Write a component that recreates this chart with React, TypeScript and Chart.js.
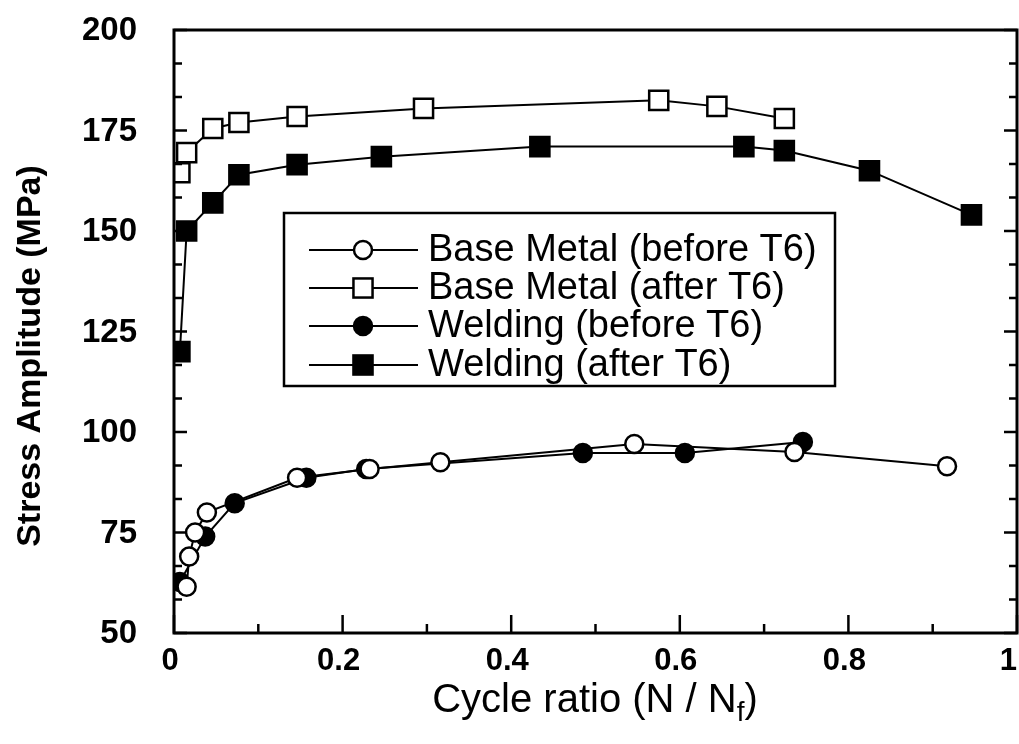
import { useEffect, useRef } from "react";
import { Chart, registerables } from "chart.js";

Chart.register(...registerables);

// ---- Data ----
const seriesLabels = [
  "Base Metal (before T6)",
  "Base Metal (after T6)",
  "Welding (before T6)",
  "Welding (after T6)",
];

const baseBeforeX = [0.015, 0.018, 0.025, 0.039, 0.146, 0.232, 0.316, 0.546, 0.736, 0.917];
const baseBeforeY = [61.5, 69, 75, 80, 88.6, 90.8, 92.5, 97, 95, 91.5];

const baseAfterX = [0.007, 0.015, 0.046, 0.077, 0.146, 0.296, 0.575, 0.644, 0.724];
const baseAfterY = [164.5, 169.5, 175.5, 177, 178.5, 180.5, 182.5, 181, 178];

const weldBeforeX = [0.007, 0.037, 0.072, 0.157, 0.228, 0.485, 0.606, 0.746];
const weldBeforeY = [62.7, 74, 82.3, 88.6, 90.8, 94.8, 94.8, 97.5];

const weldAfterX = [0.007, 0.015, 0.046, 0.077, 0.146, 0.246, 0.434, 0.676, 0.724, 0.825, 0.946];
const weldAfterY = [120, 150, 157, 164, 166.5, 168.5, 171, 171, 170, 165, 154];

const xTickValues = [0, 0.2, 0.4, 0.6, 0.8, 1];
const xTickLabels = ["0", "0.2", "0.4", "0.6", "0.8", "1"];
const xMinorValues = [0.1, 0.3, 0.5, 0.7, 0.9];
const yTickValues = [50, 75, 100, 125, 150, 175, 200];
const yTickLabels = ["50", "75", "100", "125", "150", "175", "200"];

const yTitle = "Stress Amplitude (MPa)";
const xTitleMain = "Cycle ratio (N / N";
const xTitleSub = "f";
const xTitleEnd = ")";

const FONT = '"Liberation Sans", Arial, Helvetica, sans-serif';

const pts = (xs: number[], ys: number[]) => xs.map((x, i) => ({ x, y: ys[i] }));

const markerStyles = [
  { style: "circle", fill: "#ffffff", radius: 9 },
  { style: "rect", fill: "#ffffff", radius: 13.5 },
  { style: "circle", fill: "#000000", radius: 9 },
  { style: "rect", fill: "#000000", radius: 13.5 },
];

const decorPlugin = {
  id: "decor",
  afterDatasetsDraw(chart: any) {
    const { ctx, chartArea } = chart;
    const xs = chart.scales.x;
    const ys = chart.scales.y;
    const { left, right, top, bottom } = chartArea;
    ctx.save();
    ctx.strokeStyle = "#000";
    ctx.fillStyle = "#000";

    // frame
    ctx.lineWidth = 3;
    ctx.strokeRect(left, top, right - left, bottom - top);

    // y ticks (inward on left and right)
    ctx.lineWidth = 2.5;
    for (let v = 50; v <= 200.01; v += 25 / 3) {
      const p = ys.getPixelForValue(v);
      const isMajor = Math.abs(((v - 50) / 25) - Math.round((v - 50) / 25)) < 0.01;
      const len = isMajor ? 13 : 8;
      ctx.beginPath();
      ctx.moveTo(left, p);
      ctx.lineTo(left + len, p);
      ctx.moveTo(right, p);
      ctx.lineTo(right - len, p);
      ctx.stroke();
    }
    // x ticks (inward)
    xTickValues.forEach((v) => {
      const p = xs.getPixelForValue(v);
      ctx.beginPath();
      ctx.moveTo(p, bottom);
      ctx.lineTo(p, bottom - 18);
      ctx.stroke();
    });
    xMinorValues.forEach((v) => {
      const p = xs.getPixelForValue(v);
      ctx.beginPath();
      ctx.moveTo(p, bottom);
      ctx.lineTo(p, bottom - 9);
      ctx.stroke();
    });

    // tick labels
    ctx.font = `bold 33px ${FONT}`;
    ctx.textAlign = "right";
    ctx.textBaseline = "middle";
    yTickValues.forEach((v, i) => {
      ctx.fillText(yTickLabels[i], 137, ys.getPixelForValue(v) + 1);
    });
    ctx.font = `bold 31px ${FONT}`;
    ctx.textAlign = "center";
    ctx.textBaseline = "top";
    xTickValues.forEach((v, i) => {
      let p = xs.getPixelForValue(v) - 4;
      const w = ctx.measureText(xTickLabels[i]).width;
      if (p + w / 2 > chart.width - 2) p = chart.width - 2 - w / 2;
      ctx.fillText(xTickLabels[i], p, 646);
    });

    // y title
    ctx.save();
    ctx.translate(31, 356);
    ctx.rotate(-Math.PI / 2);
    ctx.font = `bold 34px ${FONT}`;
    ctx.textAlign = "center";
    ctx.textBaseline = "middle";
    ctx.fillText(yTitle, 0, 0);
    ctx.restore();

    // x title with subscript
    ctx.font = `40px ${FONT}`;
    const wMain = ctx.measureText(xTitleMain).width;
    ctx.font = `28px ${FONT}`;
    const wSub = ctx.measureText(xTitleSub).width;
    ctx.font = `40px ${FONT}`;
    const wEnd = ctx.measureText(xTitleEnd).width;
    const total = wMain + wSub + wEnd;
    let tx = 595 - total / 2;
    const base = 712;
    ctx.textAlign = "left";
    ctx.textBaseline = "alphabetic";
    ctx.fillText(xTitleMain, tx, base);
    tx += wMain;
    ctx.font = `28px ${FONT}`;
    ctx.fillText(xTitleSub, tx, base + 9);
    tx += wSub;
    ctx.font = `40px ${FONT}`;
    ctx.fillText(xTitleEnd, tx, base);

    // legend box
    const bx = 284, by = 213, bw = 551, bh = 173;
    ctx.fillStyle = "#fff";
    ctx.fillRect(bx, by, bw, bh);
    ctx.lineWidth = 2.5;
    ctx.strokeStyle = "#000";
    ctx.strokeRect(bx, by, bw, bh);
    const rows = [250, 288, 326, 365];
    ctx.font = `38px ${FONT}`;
    ctx.textAlign = "left";
    ctx.textBaseline = "middle";
    seriesLabels.forEach((label, i) => {
      const y = rows[i];
      ctx.strokeStyle = "#000";
      ctx.lineWidth = 2;
      ctx.beginPath();
      ctx.moveTo(309, y);
      ctx.lineTo(418, y);
      ctx.stroke();
      const m = markerStyles[i];
      ctx.fillStyle = m.fill;
      ctx.lineWidth = 2.5;
      if (m.style === "circle") {
        ctx.beginPath();
        ctx.arc(363, y, m.radius, 0, Math.PI * 2);
        ctx.fill();
        ctx.stroke();
      } else {
        const s = m.radius * Math.SQRT2;
        ctx.fillRect(363 - s / 2, y - s / 2, s, s);
        ctx.strokeRect(363 - s / 2, y - s / 2, s, s);
      }
      ctx.fillStyle = "#000";
      ctx.fillText(label, 428, y + 1);
    });

    ctx.restore();
  },
};

export default function App() {
  const ref = useRef<HTMLCanvasElement | null>(null);

  useEffect(() => {
    if (!ref.current) return;
    const mk = (i: number, data: { x: number; y: number }[]) => ({
      label: seriesLabels[i],
      data,
      showLine: true,
      borderColor: "#000",
      borderWidth: 2,
      backgroundColor: markerStyles[i].fill,
      pointStyle: markerStyles[i].style,
      pointRadius: markerStyles[i].radius,
      pointBorderWidth: 2.5,
      pointBorderColor: "#000",
      pointBackgroundColor: markerStyles[i].fill,
      fill: false,
      tension: 0,
    });
    const chart = new Chart(ref.current, {
      type: "scatter",
      data: {
        datasets: [
          mk(0, pts(baseBeforeX, baseBeforeY)),
          mk(2, pts(weldBeforeX, weldBeforeY)),
          mk(1, pts(baseAfterX, baseAfterY)),
          mk(3, pts(weldAfterX, weldAfterY)),
        ],
      },
      options: {
        animation: false,
        responsive: false,
        devicePixelRatio: 1,
        layout: { autoPadding: false, padding: { left: 174, top: 30, right: 2, bottom: 111 } },
        plugins: { legend: { display: false }, tooltip: { enabled: false } },
        scales: {
          x: { type: "linear", min: 0, max: 1, display: false },
          y: { type: "linear", min: 50, max: 200, display: false },
        },
      } as any,
      plugins: [decorPlugin],
    });
    return () => chart.destroy();
  }, []);

  return (
    <div style={{ position: "absolute", left: 0, top: 0, width: 1019, height: 744, background: "#fff" }}>
      <canvas ref={ref} width={1019} height={744} />
    </div>
  );
}
